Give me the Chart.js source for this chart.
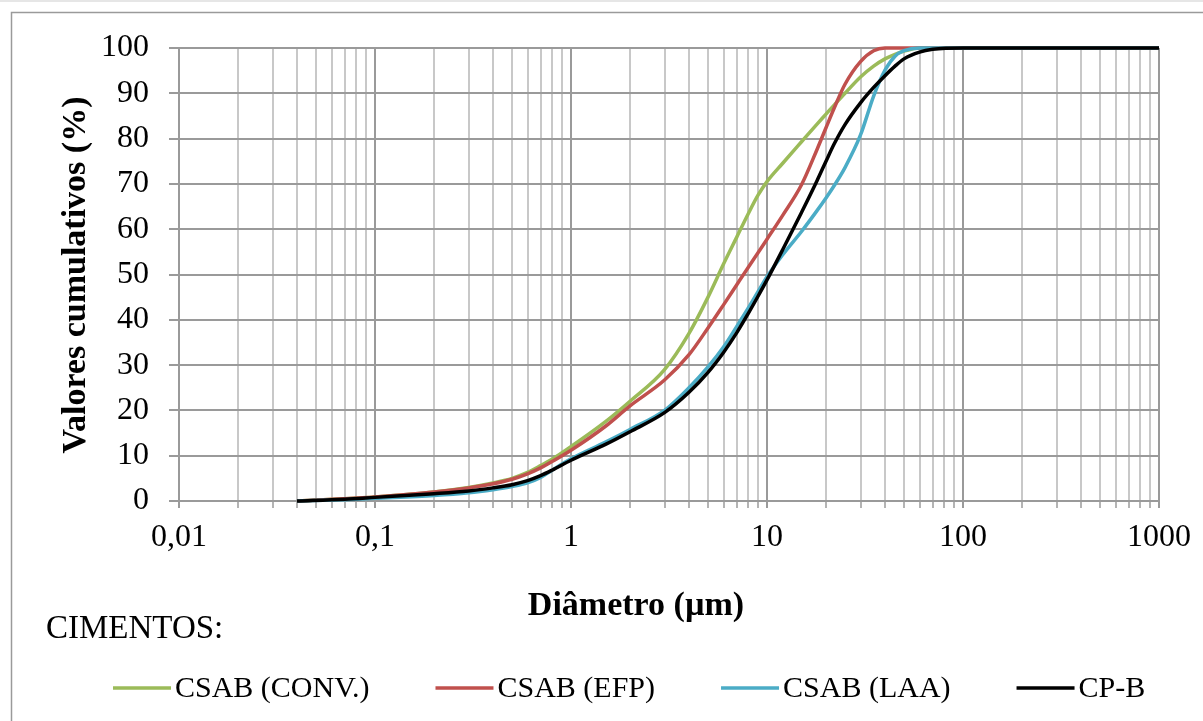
<!DOCTYPE html>
<html>
<head>
<meta charset="utf-8">
<script src="https://cdn.jsdelivr.net/npm/chart.js@4.4.1/dist/chart.umd.min.js"></script>
<style>
  html, body { margin: 0; padding: 0; background: #fff; }
  #wrap { width: 1203px; height: 721px; position: relative; }
</style>
</head>
<body>
<div id="wrap"><canvas id="psd"></canvas></div>
<script>
"use strict";

// diâmetro (µm)
const diametros = [0.04, 0.07, 0.1, 0.2, 0.3, 0.4, 0.5, 0.6, 0.7, 0.8, 1, 1.5, 2, 3, 4, 5, 6, 7, 8, 9, 10,
                   12, 15, 18, 20, 22, 25, 30, 35, 40, 45, 50, 60, 70, 100, 200, 500, 1000];

// valores cumulativos (%)
const csabConv = [0, 0.5, 0.9, 2, 3, 4, 5, 6.3, 7.8, 9.2, 12, 17.5, 22, 29, 37, 45, 52.3, 58.2, 63.3, 67.5, 70.5,
                  74.5, 79.3, 83.2, 85.4, 87.4, 90, 93.6, 96, 97.6, 98.6, 99.3, 100, 100, 100, 100, 100, 100];
const csabEfp  = [0, 0.5, 0.9, 2, 2.9, 3.8, 4.8, 6, 7.3, 8.7, 11.2, 16.5, 21, 26.7, 32.3, 38.2, 43.3, 47.7, 51.5, 54.8, 57.8,
                  63, 69.8, 77.6, 82.4, 86.7, 92, 97, 99.4, 100, 100, 100, 100, 100, 100, 100, 100, 100];
const csabLaa  = [0, 0.3, 0.6, 1.2, 1.8, 2.5, 3.2, 4, 5.2, 6.8, 9.3, 13, 15.8, 20, 25, 29.6, 34, 38.5, 42.5, 46.2, 49.5,
                  54.3, 59.5, 64.1, 66.9, 69.6, 73.6, 80.8, 89.4, 95.1, 98.2, 99.4, 100, 100, 100, 100, 100, 100];
const cpB      = [0, 0.4, 0.8, 1.6, 2.2, 2.9, 3.6, 4.5, 5.6, 6.8, 9, 12.5, 15.3, 19.5, 24, 28.4, 32.8, 37.1, 41.3, 45.2, 48.8,
                  55.4, 63.7, 70.7, 75, 78.8, 83.1, 87.9, 91.3, 93.9, 96, 97.6, 99.1, 99.7, 100, 100, 100, 100];

const seriesNames = ['CSAB (CONV.)', 'CSAB (EFP)', 'CSAB (LAA)', 'CP-B'];
const seriesColors = ['#9BBB59', '#C0504D', '#4BACC6', '#000000'];

const decadas = [0.01, 0.1, 1, 10, 100, 1000];
const decadaLabels = ['0,01', '0,1', '1', '10', '100', '1000'];

const FONT = "'Liberation Serif', 'Times New Roman', serif";

function pts(ys) { return diametros.map((d, i) => ({ x: d, y: ys[i] })); }
function isDecade(v) { return decadas.some(d => Math.abs(Math.log10(v) - Math.log10(d)) < 1e-9); }

const allSeries = [csabConv, csabEfp, csabLaa, cpB];
const datasets = allSeries.map((ys, i) => ({
    label: seriesNames[i],
    data: pts(ys),
    borderColor: seriesColors[i],
    borderWidth: 3.5,
    pointRadius: 0,
    fill: false,
    cubicInterpolationMode: 'monotone',
    clip: false,
    order: allSeries.length - 1 - i
}));

const decor = {
    id: 'decor',
    beforeDraw(chart) {
        const c = chart.ctx;
        c.save();
        c.strokeStyle = '#e6e6e6';
        c.lineWidth = 2;
        c.beginPath(); c.moveTo(0, 1); c.lineTo(1203, 1); c.stroke();
        c.strokeStyle = '#9a9a9a';
        c.lineWidth = 1.5;
        c.strokeRect(11.5, 12.5, 1230, 740);
        c.restore();
    },
    afterDraw(chart) {
        const c = chart.ctx;
        c.save();
        c.fillStyle = '#000';
        // eixo Y
        c.font = 'bold 34px ' + FONT;
        c.textAlign = 'center';
        c.textBaseline = 'middle';
        c.translate(76, 275);
        c.rotate(-Math.PI / 2);
        c.fillText('Valores cumulativos (%)', 0, 0);
        c.setTransform(1, 0, 0, 1, 0, 0);
        // eixo X
        c.fillText('Diâmetro (µm)', 636, 606);
        // legenda
        c.font = '33px ' + FONT;
        c.textAlign = 'left';
        c.fillText('CIMENTOS:', 46, 629);
        c.font = '30px ' + FONT;
        let x = 113;
        chart.data.datasets.forEach(ds => {
            c.strokeStyle = ds.borderColor;
            c.lineWidth = 3.5;
            c.beginPath(); c.moveTo(x, 688); c.lineTo(x + 58, 688); c.stroke();
            c.fillText(ds.label, x + 62, 689);
            x += 62 + c.measureText(ds.label).width + 66;
        });
        c.restore();
    }
};

new Chart(document.getElementById('psd'), {
    type: 'line',
    data: { datasets },
    plugins: [decor],
    options: {
        responsive: true,
        maintainAspectRatio: false,
        animation: false,
        layout: { padding: { left: 0, top: 48, right: 44, bottom: 0 } },
        plugins: { legend: { display: false }, tooltip: { enabled: false } },
        scales: {
            x: {
                type: 'logarithmic',
                min: 0.01,
                max: 1000,
                afterBuildTicks(scale) {
                    const t = [];
                    decadas.forEach((d, i) => {
                        if (i === decadas.length - 1) { t.push({ value: d }); return; }
                        for (let m = 1; m <= 9; m++) t.push({ value: +(d * m).toPrecision(6) });
                    });
                    scale.ticks = t;
                },
                afterFit(scale) { scale.height = 220; },
                grid: {
                    color: ctx => isDecade(ctx.tick.value) ? '#9a9a9a' : '#c8c8c8',
                    lineWidth: 2,
                    tickLength: 7,
                    tickColor: ctx => isDecade(ctx.tick.value) ? '#9a9a9a' : '#b4b4b4'
                },
                border: { color: '#9a9a9a', width: 2 },
                ticks: {
                    autoSkip: false,
                    maxRotation: 0,
                    padding: 10,
                    color: '#000',
                    font: { family: FONT, size: 32 },
                    callback(value) {
                        const i = decadas.findIndex(d => Math.abs(Math.log10(value) - Math.log10(d)) < 1e-9);
                        return i >= 0 ? decadaLabels[i] : '';
                    }
                }
            },
            y: {
                min: 0,
                max: 100,
                afterFit(scale) { scale.width = 179; },
                grid: { color: '#9a9a9a', lineWidth: 2, tickLength: 10 },
                border: { color: '#9a9a9a', width: 2 },
                ticks: {
                    stepSize: 10,
                    padding: 20,
                    color: '#000',
                    font: { family: FONT, size: 32 }
                }
            }
        }
    }
});
</script>
</body>
</html>
